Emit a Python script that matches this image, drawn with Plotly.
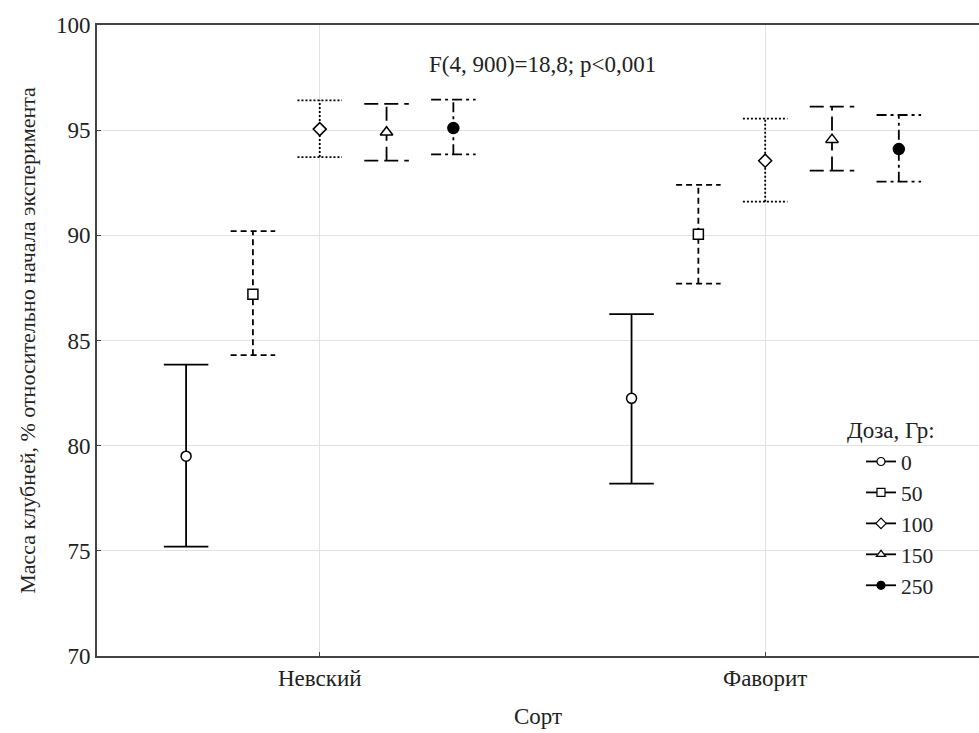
import plotly.graph_objects as go

# Сорта картофеля и дозы облучения
varieties = ["Невский", "Фаворит"]
doses = ["0", "50", "100", "150", "250"]

# Средние значения массы клубней (%) для каждой дозы: [Невский, Фаворит]
mean_0 = [79.5, 82.25]
mean_50 = [87.2, 90.05]
mean_100 = [95.05, 93.55]
mean_150 = [94.9, 94.55]
mean_250 = [95.1, 94.1]

# Верхние и нижние границы доверительных интервалов
upper_0 = [83.85, 86.25]
lower_0 = [75.2, 78.2]
upper_50 = [90.2, 92.4]
lower_50 = [84.3, 87.7]
upper_100 = [96.42, 95.55]
lower_100 = [93.72, 91.6]
upper_150 = [96.25, 96.12]
lower_150 = [93.55, 93.08]
upper_250 = [96.45, 95.72]
lower_250 = [93.85, 92.55]

y_ticks = [70, 75, 80, 85, 90, 95, 100]

means = [mean_0, mean_50, mean_100, mean_150, mean_250]
uppers = [upper_0, upper_50, upper_100, upper_150, upper_250]
lowers = [lower_0, lower_50, lower_100, lower_150, lower_250]

# Стиль для каждой дозы: символ, заливка, тип линии
symbols = ["circle", "square", "diamond", "triangle-up", "circle"]
fills = ["white", "white", "white", "white", "black"]
sizes = [10, 10, 10, 11, 11]
dashes = ["solid", "6px,4px", "2px,2px", "14px,6px", "10px,4px,3px,4px"]

FONT = "'Liberation Serif', 'Times New Roman', 'DejaVu Serif', serif"
step = 0.15
cap = 0.05

fig = go.Figure()

for i, d in enumerate(doses):
    off = (i - 2) * step
    xs, ys = [], []
    for j in range(len(varieties)):
        xc = j + off
        lo, hi = lowers[i][j], uppers[i][j]
        # вертикальная линия
        xs += [xc, xc, None]
        ys += [lo, hi, None]
        # «усы»
        xs += [xc - cap, xc + cap, None, xc - cap, xc + cap, None]
        ys += [hi, hi, None, lo, lo, None]
    fig.add_trace(go.Scatter(
        x=xs, y=ys, mode="lines",
        line=dict(color="black", width=1.8, dash=dashes[i]),
        showlegend=False, hoverinfo="skip",
    ))
    fig.add_trace(go.Scatter(
        x=[j + off for j in range(len(varieties))], y=means[i],
        mode="markers",
        marker=dict(symbol=symbols[i], size=sizes[i], color=fills[i],
                    line=dict(color="black", width=1.5)),
        showlegend=False,
    ))
    # элемент легенды
    fig.add_trace(go.Scatter(
        x=[None], y=[None], mode="lines+markers", name=d,
        legendgroup=d,
        line=dict(color="black", width=1.8),
        marker=dict(symbol=symbols[i], size=8, color=fills[i],
                    line=dict(color="black", width=1.2)),
    ))

fig.add_annotation(
    text="F(4, 900)=18,8; p<0,001", xref="paper", yref="paper",
    x=(542 - 97) / 882, y=(656 - 50) / 631, showarrow=False,
    font=dict(family=FONT, size=23, color="#222"),
)
fig.add_annotation(
    text="Доза, Гр:", xref="paper", yref="paper",
    x=(845 - 97) / 882, y=(656 - 431) / 631, xanchor="left",
    showarrow=False, font=dict(family=FONT, size=23, color="#222"),
)

fig.update_layout(
    width=979, height=733,
    margin=dict(l=97, r=0, t=25, b=77),
    paper_bgcolor="white", plot_bgcolor="white",
    font=dict(family=FONT, size=23, color="#222"),
    legend=dict(
        x=(861 - 97) / 882, y=(656 - 441) / 631,
        xanchor="left", yanchor="top",
        bgcolor="rgba(0,0,0,0)", borderwidth=0,
        font=dict(family=FONT, size=21.5, color="#222"),
        traceorder="grouped", tracegroupgap=0, itemwidth=30,
    ),
    xaxis=dict(
        range=[-0.5, 1.48],
        tickvals=list(range(len(varieties))), ticktext=varieties,
        showgrid=True, gridcolor="#e2e2e2", gridwidth=1,
        showline=True, linecolor="#444", linewidth=2, mirror=True,
        ticks="inside", ticklen=4, tickcolor="#444",
        zeroline=False,
        title=dict(text="Сорт", font=dict(family=FONT, size=23), standoff=18),
    ),
    yaxis=dict(
        range=[70, 100], tickvals=y_ticks,
        showgrid=True, gridcolor="#e2e2e2", gridwidth=1,
        showline=True, linecolor="#444", linewidth=2,
        ticks="inside", ticklen=4, tickcolor="#444",
        zeroline=False,
        title=dict(text="Масса клубней, % относительно начала эксперимента",
                   font=dict(family=FONT, size=22), standoff=14),
    ),
)

fig.write_html("out.html")
